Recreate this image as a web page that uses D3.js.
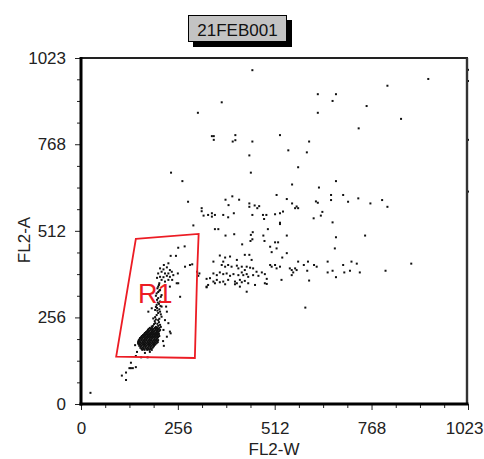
<!DOCTYPE html>
<html>
<head>
<meta charset="utf-8">
<script src="https://cdn.jsdelivr.net/npm/d3@7"></script>
<style>
  html, body { margin: 0; padding: 0; background: #fff; }
  svg { display: block; }
  text { font-family: "Liberation Sans", Arial, sans-serif; }
</style>
</head>
<body>
<script>
// ---- acquisition info and axis settings ----
const fileName = "21FEB001";
const xLabel = "FL2-W";
const yLabel = "FL2-A";
const majorTicks = [0, 256, 512, 768, 1023];
const minorTicks = [64, 128, 192, 320, 384, 448, 576, 640, 704, 832, 896, 960];

// ---- events (FL2-W, FL2-A channel values) ----
// events saturated on FL2-A (value 1023), listed by FL2-W
const saturatedA = [515, 567, 579, 587, 597, 611, 654, 675, 737, 759, 859, 954];
// events saturated on FL2-W (value 1023), listed by FL2-A
const saturatedW = [988, 955, 781, 628];

// sparse high-FL2-A events
const upperEvents = [
  [453,987],[918,961],[810,941],[626,916],[674,916],[665,896],[372,892],[755,881],
  [309,861],[626,861],[846,843],[734,815],[346,792],[351,792],[351,781],[408,795],
  [401,776],[408,780],[453,776],[526,795],[603,776],[548,750],[597,744],[445,735],
  [574,700],[449,684],[238,684],[268,659],[674,659],[558,649],[629,640]
];

// aggregate events around FL2-A 430-620
const middleEvents = [
  [517,618],[544,606],[661,618],[661,603],[693,618],[706,598],[733,608],[765,593],
  [796,603],[810,583],[621,599],[626,595],[400,614],[382,604],[418,604],[390,588],
  [283,598],[445,593],[445,583],[459,587],[466,579],[471,585],[558,593],[566,579],
  [570,584],[574,579],[319,579],[319,570],[324,557],[336,559],[346,564],[346,554],
  [354,559],[376,559],[389,552],[404,564],[453,559],[481,559],[490,559],[484,547],
  [513,561],[526,564],[534,569],[526,536],[526,532],[615,549],[634,557],[638,568],
  [665,537],[297,528],[354,517],[363,517],[382,498],[405,502],[454,508],[449,500],
  [453,487],[448,482],[494,517],[482,498],[544,498],[674,493],[751,498],[426,472],
  [485,482],[513,478],[521,478],[500,465],[517,460],[504,449],[671,460],[544,446],
  [274,466],[257,462],[532,433],[367,439],[381,433],[445,441]
];

// doublet band around FL2-A 350-420
const doubletEvents = [
  [394,436],[412,426],[433,441],[451,426],[372,411],[381,406],[389,411],[398,406],
  [412,409],[416,401],[425,406],[433,396],[438,406],[447,403],[455,401],[464,391],
  [478,389],[350,386],[359,381],[367,389],[376,384],[385,386],[394,379],[403,384],
  [416,381],[425,389],[429,381],[438,384],[442,376],[455,381],[469,379],[486,384],
  [500,411],[504,406],[513,411],[517,401],[526,406],[552,401],[557,396],[561,389],
  [566,401],[570,396],[332,370],[341,372],[350,362],[359,367],[367,360],[376,362],
  [389,367],[407,362],[412,357],[420,367],[425,360],[433,364],[442,357],[460,352],
  [486,357],[491,370],[530,367],[557,381],[336,352],[354,357],[381,354],[407,354],
  [420,347],[438,332],[491,355],[332,345],[593,285],[350,421],[376,421],[574,421],
  [589,411],[598,394],[616,411],[623,406],[603,365],[652,421],[652,389],[665,394],
  [674,375],[693,411],[696,389],[711,394],[715,421],[729,415],[737,389],[805,394],
  [873,415],[600,421]
];

// singlet population: G2 ring and the tail down to G1
const singletEvents = [
  [237,438],[251,438],[288,411],[275,406],[294,413],[231,416],[307,391],[313,386],
  [256,386],[332,347],[310,379],[257,357],
  [209,401],[218,398],[227,404],[235,396],[213,391],[222,386],[231,386],[240,391],
  [204,386],[209,376],[218,375],[227,379],[235,376],[244,381],[213,367],[222,362],
  [231,367],[207,357],[253,357],[262,317],[235,347],[219,411],[241,367],[201,373],
  [204,347],[209,337],[200,327],[213,322],[204,313],[209,303],[200,293],[213,288],
  [196,278],[209,273],[200,263],[213,258],[191,253],[204,248],[196,239],[209,234],
  [187,229],[200,224],[204,331],[201,308],[206,296],[201,284],[204,269],[196,257],
  [206,242],[190,231],[204,231],
  [206,352],[202,342],[207,335],[198,320],[211,317],[203,300],[210,290],[198,287],
  [207,280],[202,276],[211,265],[198,250],[207,252],[195,245],[202,237],[193,236],
  [198,228],[211,228],
  [178,273],[187,283],[225,288],[227,273],[222,248],[231,239],[218,219],[237,209],
  [227,199],[235,214]
];

// G1 peak
const g1Events = [
  [182,225],[188,225],[195,225],[201,225],[207,225],
  [179,222],[185,222],[192,222],[198,222],[204,222],
  [177,219],[184,219],[190,219],[197,219],[203,219],[209,219],
  [175,216],[181,216],[188,216],[194,216],[201,216],[207,216],
  [172,213],[179,213],[186,213],[192,213],[199,213],[205,213],
  [169,210],[176,210],[183,210],[189,210],[196,210],[202,210],
  [167,207],[173,207],[180,207],[186,207],[193,207],[199,207],[206,207],
  [164,204],[171,204],[177,204],[184,204],[190,204],[197,204],[203,204],
  [161,201],[168,201],[175,201],[181,201],[188,201],[194,201],[201,201],[207,201],
  [159,198],[165,198],[172,198],[178,198],[185,198],[191,198],[198,198],[204,198],
  [156,195],[163,195],[169,195],[176,195],[182,195],[189,195],[195,195],[202,195],
  [155,192],[161,192],[168,192],[174,192],[181,192],[187,192],[194,192],[200,192],
  [153,189],[159,189],[166,189],[172,189],[179,189],[185,189],[192,189],[198,189],[204,189],
  [152,186],[155,186],[162,186],[168,186],[175,186],[181,186],[188,186],[194,186],[201,186],
  [151,183],[157,183],[164,183],[170,183],[177,183],[183,183],[190,183],[196,183],[203,183],
  [151,180],[154,180],[161,180],[167,180],[174,180],[180,180],[187,180],[193,180],[200,180],
  [152,177],[158,177],[165,177],[171,177],[178,177],[184,177],[191,177],[197,177],
  [156,175],[163,175],[169,175],[176,175],[182,175],[189,175],[195,175],
  [154,172],[160,172],[167,172],[173,172],[180,172],[186,172],[193,172],
  [158,169],[165,169],[171,169],[178,169],[184,169],[191,169],
  [157,166],[163,166],[170,166],[176,166],[183,166],[189,166],
  [160,163],[166,163],[173,163],[179,163],[185,163],
  [162,160],[168,160],[175,160],[181,160],[187,160],
  [148,154],[169,151],[182,154],[219,172],[217,186],[143,174],
  [145,142],[159,138],[176,138]
];

// debris below the gate
const debrisEvents = [
  [132,122],[128,106],[132,106],[137,106],[145,109],[119,93],[108,84],[119,71],[25,33]
];

// region R1 vertices
const gateR1 = [[145,488],[311,503],[307,390],[301,136],[93,140]];
const gateLabel = { name: "R1", at: [151, 299] };

// ---- drawing ----
const W = 484, H = 459;
const svg = d3.select("body").append("svg").attr("width", W).attr("height", H);

const x = d3.scaleLinear().domain([0, 1023]).range([81, 468]);
const y = d3.scaleLinear().domain([0, 1023]).range([404, 58]);

// title box with drop shadow
const title = svg.append("g");
title.append("rect").attr("x", 193).attr("y", 20).attr("width", 99).attr("height", 27).attr("fill", "#000");
title.append("rect").attr("x", 188.5).attr("y", 15.5).attr("width", 98).attr("height", 26)
  .attr("fill", "#c3c3c3").attr("stroke", "#000").attr("stroke-width", 1);
title.append("text").attr("x", 237.5).attr("y", 35.5).attr("text-anchor", "middle")
  .attr("font-size", 17).attr("fill", "#111").text(fileName);

// axes
const xMajor = d3.axisBottom(x).tickValues(majorTicks).tickSize(6).tickSizeOuter(0).tickPadding(12).tickFormat(d3.format("d"));
const xMinor = d3.axisBottom(x).tickValues(minorTicks).tickSize(4).tickSizeOuter(0).tickFormat("");
const yMajor = d3.axisLeft(y).tickValues(majorTicks).tickSize(6).tickSizeOuter(0).tickPadding(9).tickFormat(d3.format("d"));
const yMinor = d3.axisLeft(y).tickValues(minorTicks).tickSize(4).tickSizeOuter(0).tickFormat("");

function styleAxis(g) {
  g.select(".domain").remove();
  g.selectAll(".tick line").attr("stroke", "#222").attr("stroke-width", 1);
  g.selectAll(".tick text").attr("font-size", 17).attr("fill", "#222")
    .attr("font-family", "'Liberation Sans', Arial, sans-serif");
}
svg.append("g").attr("transform", "translate(0,404)").call(xMinor).call(styleAxis);
const gx = svg.append("g").attr("transform", "translate(0,404)").call(xMajor).call(styleAxis);
// keep the last x label inside the window edge
gx.selectAll(".tick text").filter(d => d === 1023).attr("text-anchor", "end").attr("x", 483 - x(1023));
svg.append("g").attr("transform", "translate(81,0)").call(yMinor).call(styleAxis);
svg.append("g").attr("transform", "translate(81,0)").call(yMajor).call(styleAxis);

// axis titles
svg.append("text").attr("x", 274).attr("y", 455).attr("text-anchor", "middle")
  .attr("font-size", 17).attr("fill", "#222").text(xLabel);
svg.append("text").attr("transform", "translate(30,240) rotate(-90)").attr("text-anchor", "middle")
  .attr("font-size", 17).attr("fill", "#222").text(yLabel);

// events
const events = [].concat(
  saturatedA.map(v => [v, 1023]),
  saturatedW.map(v => [1023, v]),
  upperEvents, middleEvents, doubletEvents, singletEvents, g1Events, debrisEvents
);
svg.append("g").selectAll("rect").data(events).join("rect")
  .attr("x", d => x(d[0]) - 1).attr("y", d => y(d[1]) - 1)
  .attr("width", 2).attr("height", 2).attr("fill", "#111");

// plot frame: heavy left/bottom axes, lighter top/right
svg.append("line").attr("x1", 81).attr("x2", 468).attr("y1", 58).attr("y2", 58)
  .attr("stroke", "#222").attr("stroke-width", 1.8);
svg.append("line").attr("x1", 467).attr("x2", 467).attr("y1", 58).attr("y2", 405)
  .attr("stroke", "#333").attr("stroke-width", 2.4);
svg.append("line").attr("x1", 81).attr("x2", 81).attr("y1", 57).attr("y2", 405.5)
  .attr("stroke", "#000").attr("stroke-width", 3);
svg.append("line").attr("x1", 79.5).attr("x2", 468.5).attr("y1", 404).attr("y2", 404)
  .attr("stroke", "#000").attr("stroke-width", 2.8);

// gate R1
svg.append("path")
  .attr("d", d3.line().x(d => x(d[0])).y(d => y(d[1])).curve(d3.curveLinearClosed)(gateR1))
  .attr("fill", "none").attr("stroke", "#ec1c24").attr("stroke-width", 1.8);
svg.append("text").attr("x", x(gateLabel.at[0])).attr("y", y(gateLabel.at[1]))
  .attr("font-size", 27).attr("fill", "#ec1c24").text(gateLabel.name);
</script>
</body>
</html>
